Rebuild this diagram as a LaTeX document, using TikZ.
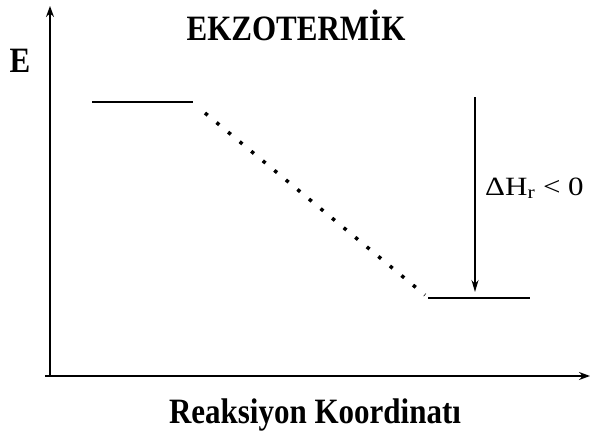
\documentclass[tikz,border=0pt]{standalone}
\usepackage{fontspec}
\setmainfont{Liberation Serif}
\usetikzlibrary{arrows.meta}
\newcommand{\tallt}[1]{\scalebox{1}[1.15]{#1}}
\begin{document}
\begin{tikzpicture}[x=1pt,y=-1pt,
  axis/.style={line width=1.4pt,-{Stealth[length=11pt,width=8pt]}},
  level/.style={line width=1.3pt},
  dotline/.style={line width=3.5pt,dash pattern=on 3.5pt off 11.5pt},
  darrow/.style={line width=1.5pt,-{Stealth[length=12pt,width=7pt]}},
  lbl/.style={inner sep=0pt,anchor=base,font=\fontsize{31}{36}\selectfont\bfseries},
  dlbl/.style={inner sep=0pt,anchor=base west,font=\fontsize{31}{36}\selectfont}]
\useasboundingbox (0,0) rectangle (590,431);
\fill[white] (0,0) rectangle (590,431);
\coordinate (origin) at (50,376);
\coordinate (ytop) at (50,6);
\coordinate (xend) at (590,376);
\coordinate (topL) at (92,102);
\coordinate (topR) at (193,102);
\coordinate (dotS) at (205,113);
\coordinate (dotE) at (425,295);
\coordinate (botL) at (428,298);
\coordinate (botR) at (530,298);
\coordinate (arrS) at (475,97);
\coordinate (arrE) at (475,292);
\draw[axis] (origin) -- (ytop);
\draw[axis] (45,376) -- (xend);
\draw[level] (topL) -- (topR);
\draw[level] (botL) -- (botR);
\draw[dotline] (dotS) -- (dotE);
\draw[darrow] (arrS) -- (arrE);
\node[lbl] (title) at (296,41) {\tallt{EKZOTERMİK}};
\node[lbl] (elabel) at (20,72) {\tallt{E}};
\node[lbl] (xlabel) at (315,423) {\tallt{Reaksiyon Koordinatı}};
\node[dlbl] (dh) at (485,195) {\scalebox{1}[0.85]{ΔH\textsubscript{r} < 0}};
\end{tikzpicture}
\end{document}
